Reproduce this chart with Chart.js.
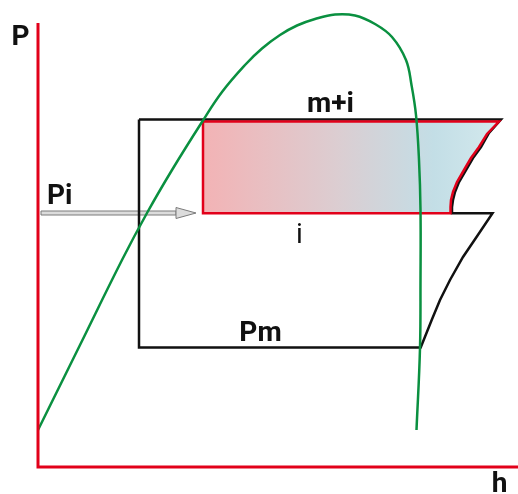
<!DOCTYPE html>
<html>
<head>
<meta charset="utf-8">
<script src="https://cdn.jsdelivr.net/npm/chart.js@4.4.0/dist/chart.umd.min.js"></script>
<style>
  body { margin: 0; background: #fff; }
  canvas { display: block; }
</style>
</head>
<body>
<canvas id="mycanvas" width="518" height="494"></canvas>
<script>
// saturation dome (h, P)
var domeH = [0, 42, 84, 109, 134, 164, 184, 207, 224, 242, 259, 277, 297, 317, 337, 354, 368, 373.5, 378, 381, 382.5, 382.5, 382, 378.5];
var domeP = [37, 122, 207, 254, 297, 345, 375, 402, 418.5, 432, 441.5, 448, 452.5, 451.5, 443, 430, 407, 382, 352, 307, 257, 187, 119, 37];

// outer cycle (black)
var cycleH = [101, 463, 451, 443, 435, 428, 421, 417, 415, 414, 414, 454.5, 438.7, 425, 412, 402, 393.7, 387, 382.7, 101, 101];
var cycleP = [347.5, 347.5, 334, 320, 309, 297, 285, 275, 267, 260, 253.7, 253.7, 230.3, 210, 187, 167, 147, 130.3, 119.5, 119.5, 347.5];

// intermediate pressure zone (red)
var zoneH = [165, 461, 449, 441, 433, 426, 419, 415, 413, 412.5, 412.5, 165, 165];
var zoneP = [345.5, 345.5, 333, 320, 309, 297, 285, 275, 267, 260, 253.7, 253.7, 345.5];

// axes
var axisH = [0, 0, 480];
var axisP = [444, 0, 0];

// arrow Pi
var arrowH = [3, 158];
var arrowP = 254;

function zip(xs, ys) {
  var pts = [];
  for (var i = 0; i < xs.length; i++) {
    pts.push({x: xs[i], y: ys[i]});
  }
  return pts;
}

var labels = [
  {text: "P", x: -17.5, y: 422, align: "center", bold: true},
  {text: "h", x: 461.5, y: -25, align: "center", bold: true},
  {text: "Pi", x: 9, y: 263, align: "left", bold: true},
  {text: "m+i", x: 292.5, y: 355, align: "center", bold: true},
  {text: "i", x: 261.5, y: 224, align: "center", bold: false},
  {text: "Pm", x: 222.5, y: 126, align: "center", bold: true}
];

var overlay = {
  id: "overlay",
  beforeDatasetsDraw: function(chart) {
    var c = chart.ctx;
    var sx = chart.scales.x, sy = chart.scales.y;
    var x0 = sx.getPixelForValue(arrowH[0]);
    var x1 = sx.getPixelForValue(arrowH[1]);
    var y = sy.getPixelForValue(arrowP);
    var head = 20;
    c.save();
    c.fillStyle = "#dcdcdc";
    c.strokeStyle = "#7a7a7a";
    c.lineWidth = 1;
    c.beginPath();
    c.rect(x0, y - 2, x1 - head - x0, 4);
    c.fill();
    c.stroke();
    c.beginPath();
    c.moveTo(x1 - head, y - 5.5);
    c.lineTo(x1, y);
    c.lineTo(x1 - head, y + 5.5);
    c.closePath();
    c.fill();
    c.stroke();
    c.restore();
  },
  afterDatasetsDraw: function(chart) {
    var c = chart.ctx;
    var sx = chart.scales.x, sy = chart.scales.y;
    c.save();
    c.fillStyle = "#111";
    c.textBaseline = "alphabetic";
    labels.forEach(function(l) {
      c.font = (l.bold ? "bold " : "") + "28px Roboto, 'DejaVu Sans', sans-serif";
      c.textAlign = l.align;
      c.fillText(l.text, sx.getPixelForValue(l.x), sy.getPixelForValue(l.y));
    });
    c.restore();
  }
};

function zoneFill(ctx) {
  var chart = ctx.chart;
  var sx = chart.scales.x;
  if (!sx || !chart.chartArea) return "#dcd0d4";
  var g = chart.ctx.createLinearGradient(sx.getPixelForValue(165), 0, sx.getPixelForValue(461), 0);
  g.addColorStop(0, "#f3b3b5");
  g.addColorStop(0.45, "#dccdd1");
  g.addColorStop(0.78, "#c3dee6");
  g.addColorStop(1, "#d3e9ed");
  return g;
}

var ctx = document.getElementById("mycanvas");

var chart = new Chart(ctx, {
  type: "scatter",
  data: {
    datasets: [
      {
        label: "zone",
        data: zip(zoneH, zoneP),
        showLine: true,
        fill: "shape",
        backgroundColor: zoneFill,
        borderColor: "#e2001a",
        borderWidth: 2.5,
        pointRadius: 0,
        tension: 0,
        clip: false,
        order: 4
      },
      {
        label: "cycle",
        data: zip(cycleH, cycleP),
        showLine: true,
        fill: false,
        borderColor: "#111",
        borderWidth: 2.5,
        pointRadius: 0,
        tension: 0,
        clip: false,
        order: 5
      },
      {
        label: "dome",
        data: zip(domeH, domeP),
        showLine: true,
        fill: false,
        borderColor: "#0a9040",
        borderWidth: 2.5,
        pointRadius: 0,
        tension: 0.4,
        clip: false,
        order: 2
      },
      {
        label: "axes",
        data: zip(axisH, axisP),
        showLine: true,
        fill: false,
        borderColor: "#e2001a",
        borderWidth: 3,
        pointRadius: 0,
        tension: 0,
        clip: false,
        order: 1
      }
    ]
  },
  options: {
    responsive: false,
    animation: false,
    layout: { padding: 0 },
    plugins: {
      legend: { display: false },
      tooltip: { enabled: false }
    },
    scales: {
      x: { type: "linear", min: -38, max: 480, display: false },
      y: { type: "linear", min: -27, max: 467, display: false }
    }
  },
  plugins: [overlay]
});
</script>
</body>
</html>
